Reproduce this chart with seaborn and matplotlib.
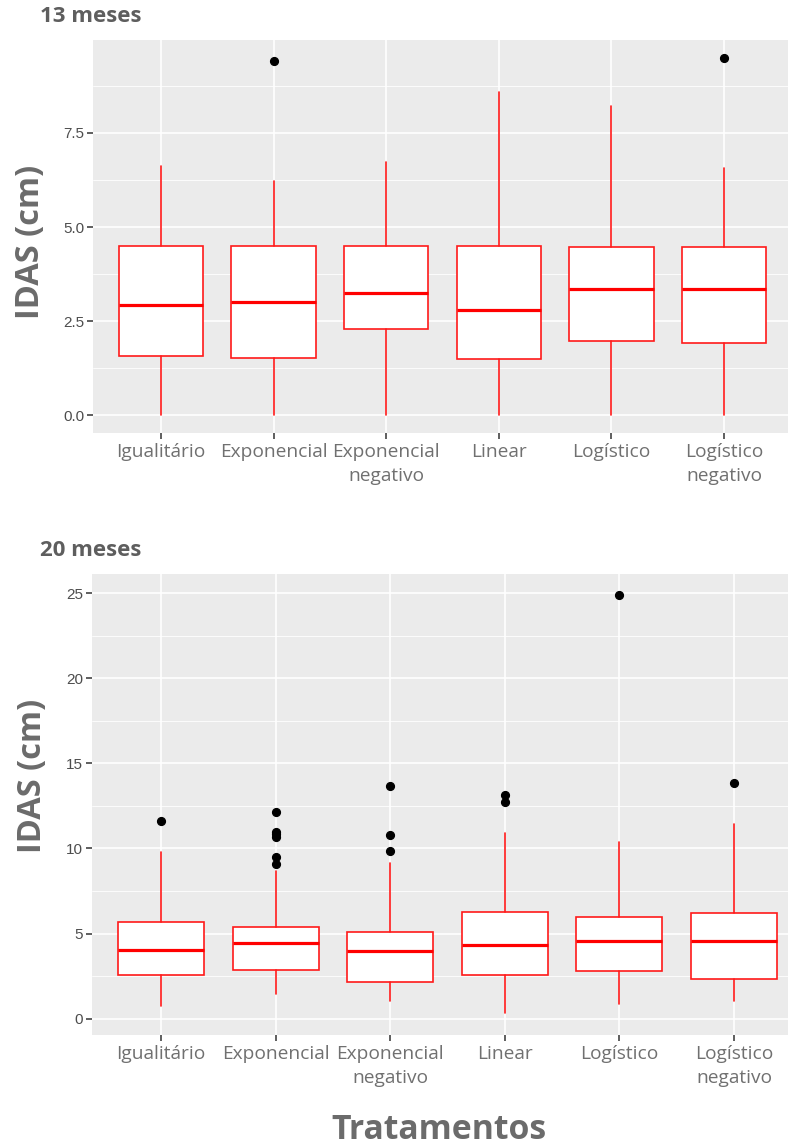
import matplotlib
matplotlib.use("Agg")
import matplotlib.pyplot as plt
import seaborn as sns
from matplotlib.ticker import MultipleLocator, FormatStrFormatter

# Treatment categories (x axis)
tratamentos = ["Igualitário", "Exponencial", "Exponencial\nnegativo",
               "Linear", "Logístico", "Logístico\nnegativo"]

# IDAS (cm) box summaries at 13 months
q1_13 = [1.57, 1.51, 2.28, 1.50, 1.98, 1.93]
med_13 = [2.92, 3.00, 3.25, 2.81, 3.36, 3.36]
q3_13 = [4.49, 4.49, 4.49, 4.51, 4.48, 4.48]
lo_13 = [0.0, 0.0, 0.0, 0.0, 0.0, 0.0]
hi_13 = [6.63, 6.22, 6.73, 8.58, 8.21, 6.58]
out_13 = [[], [9.41], [], [], [], [9.48]]

# IDAS (cm) box summaries at 20 months
q1_20 = [2.55, 2.88, 2.14, 2.55, 2.80, 2.35]
med_20 = [4.04, 4.45, 3.96, 4.31, 4.55, 4.55]
q3_20 = [5.68, 5.37, 5.10, 6.27, 5.96, 6.19]
lo_20 = [0.72, 1.43, 1.02, 0.33, 0.84, 1.02]
hi_20 = [9.80, 8.68, 9.12, 10.88, 10.37, 11.41]
out_20 = [[11.62], [12.15, 10.98, 10.82, 10.65, 9.51, 9.08],
          [13.66, 10.78, 9.84], [13.14, 12.72], [24.88], [13.82]]

sns.set_theme(style="darkgrid", rc={
    "axes.facecolor": "#EBEBEB",
    "grid.color": "white",
    "axes.edgecolor": "none",
})
plt.rcParams["font.family"] = ["Open Sans", "DejaVu Sans"]

fig = plt.figure(figsize=(7.88, 11.46), dpi=100)

W, H = 788.0, 1146.0


def add_panel(left, top, right, bottom):
    return fig.add_axes([left / W, 1 - bottom / H, (right - left) / W, (bottom - top) / H])


def draw_panel(ax, q1, med, q3, lo, hi, out, ylim, major, minor, fmt):
    stats = [dict(q1=a, med=b, q3=c, whislo=d, whishi=e, fliers=f, label=lab)
             for a, b, c, d, e, f, lab in zip(q1, med, q3, lo, hi, out, tratamentos)]
    ax.bxp(stats, positions=range(len(stats)), widths=0.75, patch_artist=True,
           showcaps=False,
           boxprops=dict(facecolor="white", edgecolor="#FF1A1A", linewidth=1.2),
           whiskerprops=dict(color="#FF1A1A", linewidth=1.2),
           medianprops=dict(color="#FF0000", linewidth=2.3),
           flierprops=dict(marker="o", markerfacecolor="black",
                           markeredgecolor="black", markersize=5.6))
    ax.set_axisbelow(True)
    ax.set_xlim(-0.6, len(stats) - 0.4)
    ax.set_ylim(*ylim)
    ax.yaxis.set_major_locator(MultipleLocator(major))
    ax.yaxis.set_minor_locator(MultipleLocator(minor))
    ax.yaxis.set_major_formatter(FormatStrFormatter(fmt))
    ax.grid(which="major", color="white", linewidth=1.2)
    ax.grid(which="minor", axis="y", color="white", linewidth=0.6)
    ax.grid(which="minor", axis="x", visible=False)
    for s in ax.spines.values():
        s.set_visible(False)
    ax.tick_params(axis="both", which="major", length=4.5, width=1.1,
                   color="#333333", bottom=True, left=True)
    ax.tick_params(axis="y", which="minor", length=0)
    ax.tick_params(axis="y", labelsize=11, labelcolor="#4D4D4D", pad=2)
    ax.tick_params(axis="x", labelsize=13.8, labelcolor="#707070", pad=3)
    for t in ax.get_yticklabels():
        t.set_family("Liberation Sans")
    for t in ax.get_xticklabels():
        t.set_linespacing(1.4)
    ax.set_xlabel("")
    ax.set_ylabel("")


# Panel bounds in pixels: left, top, right, bottom
top_box = (93.4, 40, 791.6, 433)
bot_box = (92.2, 574.3, 802.8, 1035)

ax1 = add_panel(*top_box)
draw_panel(ax1, q1_13, med_13, q3_13, lo_13, hi_13, out_13,
           (-0.47, 9.97), 2.5, 1.25, "%.1f")

ax2 = add_panel(*bot_box)
draw_panel(ax2, q1_20, med_20, q3_20, lo_20, hi_20, out_20,
           (-0.96, 26.1), 5, 2.5, "%d")

title_kw = dict(fontsize=16, fontweight="bold", color="#5E5E5E",
                ha="left", va="center")
fig.text(40 / W, 1 - 17 / H, "13 meses", **title_kw)
fig.text(40 / W, 1 - 551 / H, "20 meses", **title_kw)

ylab_kw = dict(fontsize=23.5, fontweight="bold", color="#6B6B6B",
               rotation=90, ha="center", va="center")
fig.text(31 / W, 1 - 242 / H, "IDAS (cm)", **ylab_kw)
fig.text(33 / W, 1 - 776 / H, "IDAS (cm)", **ylab_kw)

fig.text(439 / W, 1 - 1130 / H, "Tratamentos",
         fontsize=24.3, fontweight="bold", color="#6B6B6B", ha="center", va="center")

fig.savefig("out.png", dpi=100)
